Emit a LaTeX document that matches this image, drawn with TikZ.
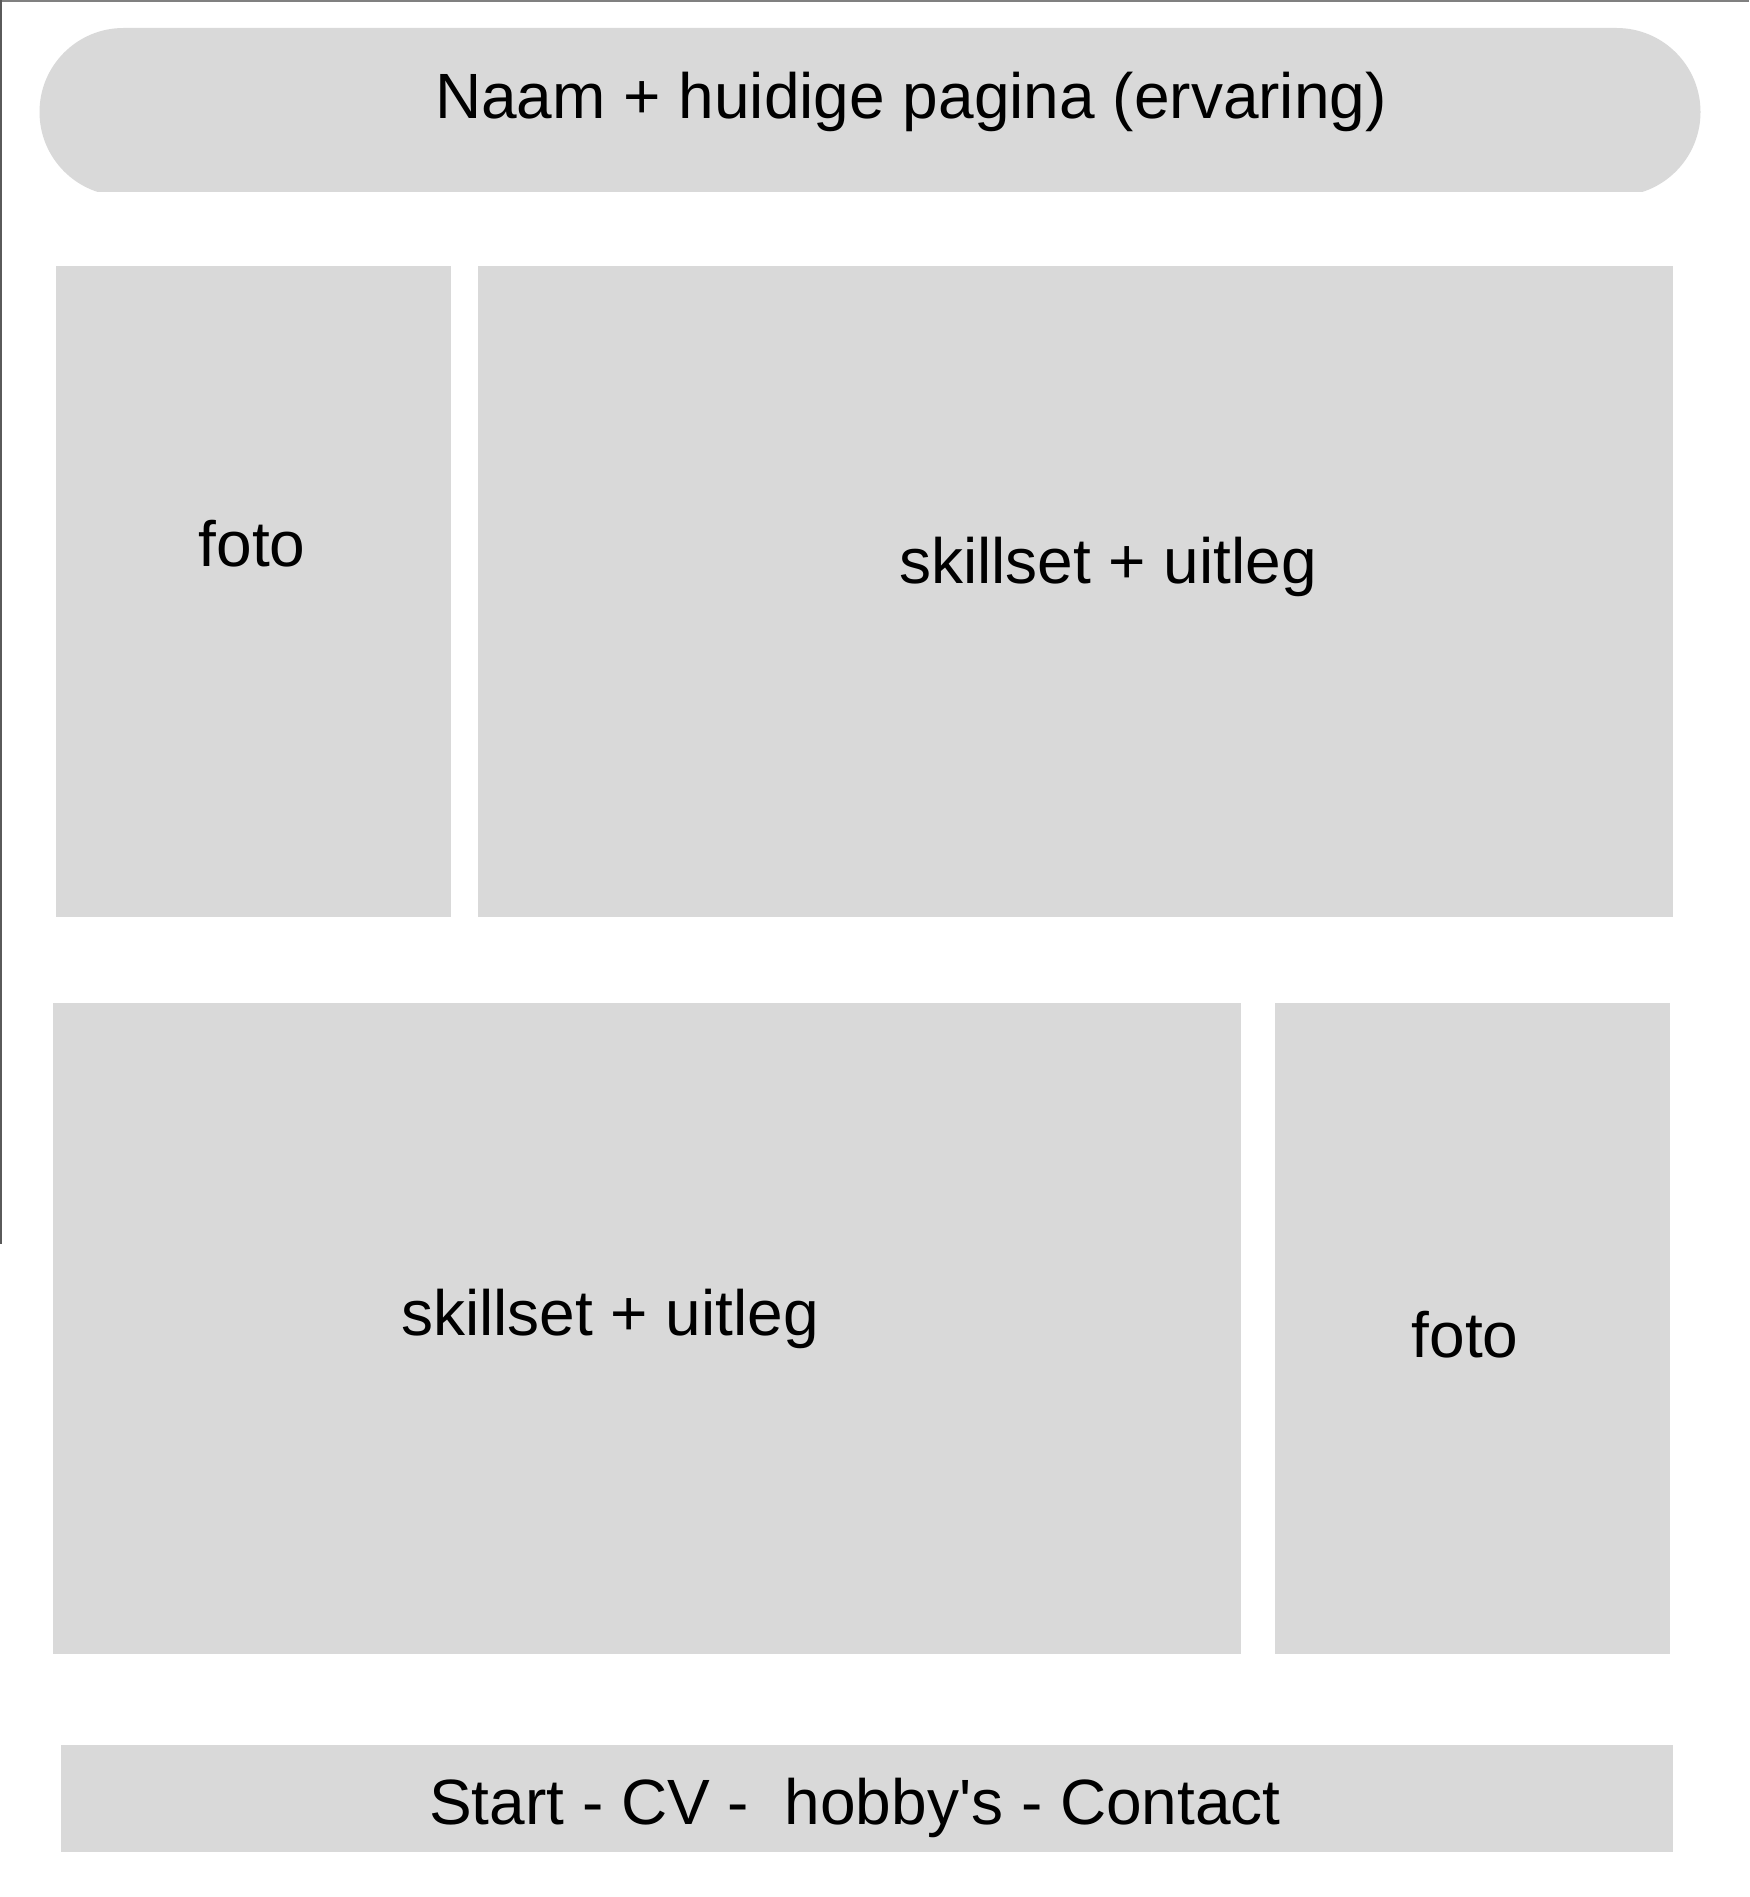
\documentclass[tikz,border=0pt]{standalone}
\usepackage{fontspec}
\setmainfont{Liberation Sans}[Ligatures=TeXOff]
\definecolor{boxgray}{HTML}{D9D9D9}
\definecolor{edgetop}{HTML}{808080}
\definecolor{edgeleft}{HTML}{5A5A5A}
\begin{document}
\begin{tikzpicture}[x=1pt,y=-1pt,
  box/.style={fill=boxgray, draw=none, inner sep=0pt, outer sep=0pt, anchor=north west},
  lbl/.style={font=\fontsize{64}{77}\selectfont, anchor=base, inner sep=0pt, text=black}]
\useasboundingbox (0,0) rectangle (1749,1897);
\fill[white] (0,0) rectangle (1749,1897);
% frame fragments
\draw[line width=2pt, edgetop] (0,1) -- (1749,1);
\draw[line width=2pt, edgeleft] (1,0) -- (1,1244);
% title bar (rounded, cut off at bottom)
\begin{scope}
  \clip (0,0) rectangle (1749,192);
  \node[box, rounded corners=84pt, minimum width=1661pt, minimum height=168pt] (title) at (39.5,28) {};
\end{scope}
\node[lbl] (titletext) at (911,119) {Naam + huidige pagina (ervaring)};
% row 1
\node[box, minimum width=395.4pt, minimum height=651pt] (foto1) at (55.6,266) {};
\node[box, minimum width=1195pt, minimum height=651pt] (skill1) at (477.8,266) {};
\node[lbl] (foto1text) at (252,566) {foto};
\node[lbl] (skill1text) at (1108,583) {skillset + uitleg};
% row 2
\node[box, minimum width=1188pt, minimum height=651pt] (skill2) at (53.2,1002.7) {};
\node[box, minimum width=395.2pt, minimum height=651pt] (foto2) at (1274.8,1002.7) {};
\node[lbl] (skill2text) at (610,1335) {skillset + uitleg};
\node[lbl] (foto2text) at (1465,1357) {foto};
% bottom navigation bar
\node[box, minimum width=1612.5pt, minimum height=107pt] (nav) at (60.5,1745) {};
\node[lbl] (navtext) at (855,1824) {Start - CV - \ hobby's - Contact};
\end{tikzpicture}
\end{document}
